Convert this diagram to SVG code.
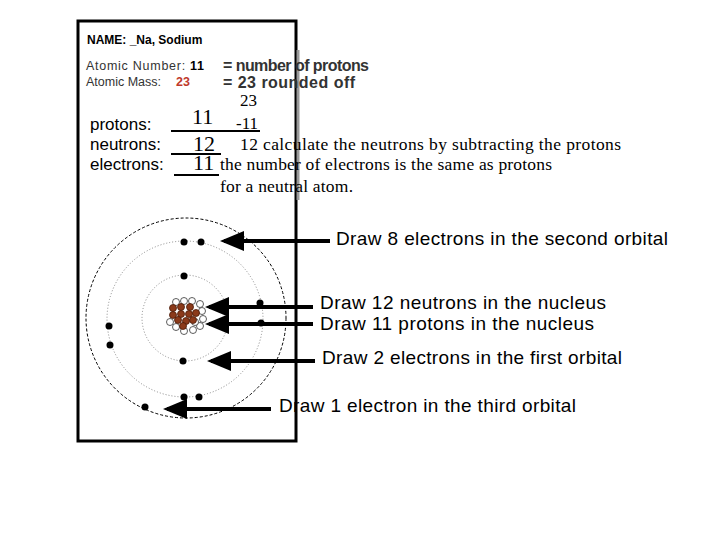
<svg xmlns="http://www.w3.org/2000/svg" width="720" height="540" viewBox="0 0 720 540">
<defs>
<style>
.s{font-family:"Liberation Sans",Arial,sans-serif}
.r{font-family:"Liberation Serif","Times New Roman",serif}
.e{fill:#000}
.p{fill:#8b3a1a;stroke:#4a1a08;stroke-width:0.8}
.n{fill:#fff;stroke:#333;stroke-width:0.8}
.ar{stroke:#000;stroke-width:4;marker-end:url(#ah)}
</style>
<marker id="ah" markerWidth="6" markerHeight="6" refX="5" refY="3" orient="auto" markerUnits="strokeWidth"><path d="M0,0.5 L6,3 L0,5.5 z" fill="#000"/></marker>
</defs>
<rect width="720" height="540" fill="#fff"/>
<rect x="78" y="21" width="218" height="420" fill="none" stroke="#000" stroke-width="3"/>
<line x1="298" y1="50" x2="298" y2="200" stroke="#999" stroke-width="3"/>
<g id="header">
<text x="87" y="44" class="s" font-size="12" font-weight="bold">NAME: _Na, Sodium</text>
<text x="86" y="70" class="s" font-size="12.5" fill="#333" textLength="118">Atomic Number: <tspan font-weight="bold" fill="#000">11</tspan></text>
<text x="86" y="86" class="s" font-size="12.5" fill="#333">Atomic Mass:</text>
<text x="176" y="86" class="s" font-size="12.5" font-weight="bold" fill="#c0392b">23</text>
<text x="223" y="71" class="s" font-size="16" font-weight="bold" fill="#333" textLength="146">= number of protons</text>
<text x="223" y="88" class="s" font-size="16" font-weight="bold" fill="#333" textLength="132">= 23 rounded off</text>
</g>
<g id="counts">
<text x="240" y="106" class="r" font-size="17">23</text>
<text x="90" y="130" class="s" font-size="17">protons:</text>
<text x="90" y="150" class="s" font-size="17">neutrons:</text>
<text x="90" y="170" class="s" font-size="17">electrons:</text>
<text x="192" y="124" class="r" font-size="22">11</text>
<text x="193" y="151" class="r" font-size="22">12</text>
<text x="193" y="170" class="r" font-size="22">11</text>
<line x1="171" y1="131" x2="241" y2="131" stroke="#000" stroke-width="2"/>
<line x1="171" y1="154" x2="221" y2="154" stroke="#000" stroke-width="2"/>
<line x1="174" y1="175" x2="219" y2="175" stroke="#000" stroke-width="2"/>
<text x="236" y="129" class="r" font-size="17">-11</text>
<line x1="236" y1="131" x2="260" y2="131" stroke="#000" stroke-width="2"/>
<text x="240" y="150" class="r" font-size="17.5" textLength="381">12   calculate the neutrons by subtracting the protons</text>
<text x="220" y="170" class="r" font-size="17.5" textLength="332">the number of electrons is the same as protons</text>
<text x="220" y="192" class="r" font-size="17.5" textLength="133">for a neutral atom.</text>
</g>
<g id="atom">
<circle cx="186" cy="318" r="100" fill="none" stroke="#000" stroke-dasharray="3,2"/>
<circle cx="185" cy="319" r="78" fill="none" stroke="#888" stroke-dasharray="1,2"/>
<circle cx="185" cy="318" r="43" fill="none" stroke="#888" stroke-dasharray="1,2"/>
<circle class="e" cx="184" cy="242" r="3.5"/><circle class="e" cx="201" cy="242" r="3.5"/>
<circle class="e" cx="184" cy="397" r="3.5"/><circle class="e" cx="199" cy="397" r="3.5"/>
<circle class="e" cx="260" cy="303" r="3.5"/><circle class="e" cx="261" cy="323" r="3.5"/>
<circle class="e" cx="109" cy="326" r="3.5"/><circle class="e" cx="110" cy="345" r="3.5"/>
<circle class="e" cx="184" cy="276" r="3.5"/><circle class="e" cx="183" cy="361" r="3.5"/>
<circle class="e" cx="145" cy="407" r="3.5"/>
</g>
<g id="nucleus">
<circle class="n" cx="184" cy="301" r="3.5"/><circle class="n" cx="192" cy="301" r="3.5"/>
<circle class="n" cx="200" cy="304" r="3.5"/><circle class="n" cx="202" cy="311" r="3.5"/>
<circle class="n" cx="203" cy="319" r="3.5"/><circle class="n" cx="200" cy="326" r="3.5"/>
<circle class="n" cx="193" cy="330" r="3.5"/><circle class="n" cx="184" cy="331" r="3.5"/>
<circle class="n" cx="176" cy="327" r="3.5"/><circle class="n" cx="170" cy="322" r="3.5"/>
<circle class="n" cx="176" cy="302" r="3.5"/><circle class="n" cx="195" cy="322" r="3.5"/>
<circle class="p" cx="173" cy="308" r="3.5"/><circle class="p" cx="181" cy="307" r="3.5"/>
<circle class="p" cx="190" cy="307" r="3.5"/><circle class="p" cx="173" cy="315" r="3.5"/>
<circle class="p" cx="181" cy="314" r="3.5"/><circle class="p" cx="189" cy="314" r="3.5"/>
<circle class="p" cx="196" cy="313" r="3.5"/><circle class="p" cx="178" cy="320" r="3.5"/>
<circle class="p" cx="186" cy="321" r="3.5"/><circle class="p" cx="193" cy="320" r="3.5"/>
<circle class="p" cx="183" cy="326" r="3.5"/>
</g>
<g id="connectors">
<line class="ar" x1="330" y1="241" x2="224" y2="241"/>
<line class="ar" x1="313" y1="307" x2="209" y2="307"/>
<line class="ar" x1="313" y1="324" x2="209" y2="324"/>
<line class="ar" x1="315" y1="361" x2="211" y2="361"/>
<line class="ar" x1="271" y1="409" x2="167" y2="409"/>
</g>
<g id="labels" class="s" font-size="19">
<text x="336" y="245" textLength="332">Draw 8 electrons in the second orbital</text>
<text x="320" y="309" textLength="286">Draw 12 neutrons in the nucleus</text>
<text x="320" y="330" textLength="274">Draw 11 protons in the nucleus</text>
<text x="322" y="364" textLength="300">Draw 2 electrons in the first orbital</text>
<text x="279" y="412" textLength="297">Draw 1 electron in the third orbital</text>
</g>
</svg>
